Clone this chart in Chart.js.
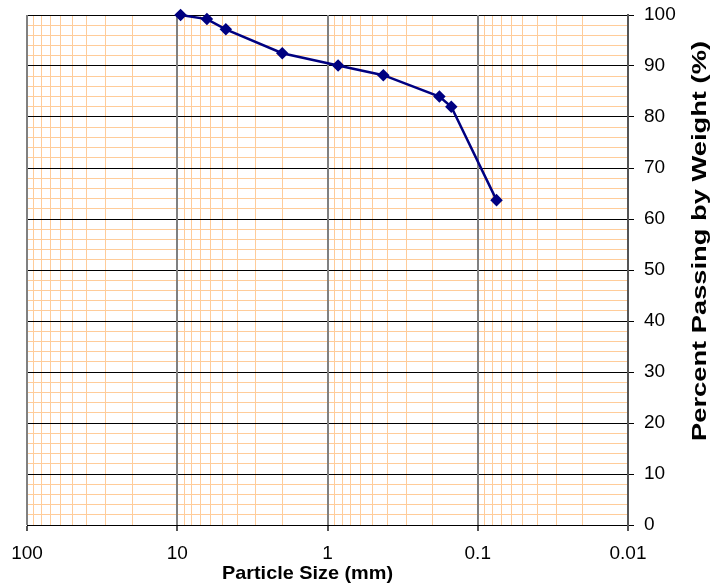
<!DOCTYPE html>
<html>
<head>
<meta charset="utf-8">
<script src="https://cdn.jsdelivr.net/npm/chart.js@4.4.1/dist/chart.umd.min.js"></script>
<style>
  html, body { margin: 0; padding: 0; background: #fff; }
  #chart { display: block; }
</style>
</head>
<body>
<canvas id="chart" width="716" height="588"></canvas>
<script>
// sieve sizes (mm) and percent passing
const sizes = [9.5, 6.35, 4.75, 2.0, 0.85, 0.425, 0.18, 0.15, 0.075];
const passing = [100, 99.2, 97.2, 92.5, 90.1, 88.2, 84.0, 82.0, 63.7];

const decades = [100, 10, 1, 0.1, 0.01];
const decadeLabels = ['100', '10', '1', '0.1', '0.01'];
const yLabels = [0, 10, 20, 30, 40, 50, 60, 70, 80, 90, 100];

const xTitle = 'Particle Size (mm)';
const yTitle = 'Percent Passing by Weight (%)';

const ORANGE = 'rgb(255, 204, 153)';
const NAVY = '#000080';

function isDecade(v) {
    const l = Math.log10(v);
    return Math.abs(l - Math.round(l)) < 1e-6;
}

function decadeLabel(v) {
    const i = decades.findIndex(d => Math.abs(Math.log10(d) - Math.log10(v)) < 1e-6);
    return i >= 0 ? decadeLabels[i] : '';
}

// log-paper ticks 1..9 in each decade
function logTicks() {
    const out = [];
    [0.01, 0.1, 1, 10].forEach(d => {
        for (let m = 1; m <= 9; m++) out.push({ value: parseFloat((m * d).toPrecision(3)) });
    });
    out.push({ value: 100 });
    return out;
}

// titles drawn by hand (y title reads bottom to top, text is stretched like the original)
const titlePlugin = {
    id: 'titles',
    afterDraw(chart) {
        const ctx = chart.ctx;
        ctx.save();
        ctx.fillStyle = '#000';
        ctx.textAlign = 'center';
        ctx.textBaseline = 'middle';

        ctx.font = 'bold 19px "Liberation Sans", Arial, sans-serif';
        let w = ctx.measureText(xTitle).width;
        ctx.save();
        ctx.translate(307.5, 574);
        ctx.scale(171 / w, 1);
        ctx.fillText(xTitle, 0, 0);
        ctx.restore();

        ctx.font = 'bold 21px "Liberation Sans", Arial, sans-serif';
        w = ctx.measureText(yTitle).width;
        ctx.save();
        ctx.translate(700, 241);
        ctx.rotate(-Math.PI / 2);
        ctx.scale(400 / w, 1);
        ctx.fillText(yTitle, 0, 0);
        ctx.restore();
        ctx.restore();
    }
};

const tickFont = { family: '"Liberation Sans", Arial, sans-serif', size: 19 };

new Chart(document.getElementById('chart'), {
    type: 'scatter',
    data: {
        datasets: [{
            data: sizes.map((s, i) => ({ x: s, y: passing[i] })),
            showLine: true,
            borderColor: NAVY,
            backgroundColor: NAVY,
            borderWidth: 2.5,
            pointStyle: 'rectRot',
            pointRadius: 4.5,
            pointHoverRadius: 4.5,
            clip: false
        }]
    },
    options: {
        responsive: false,
        devicePixelRatio: 1,
        animation: false,
        layout: { padding: { left: 27, right: 28, top: 15, bottom: 0 } },
        plugins: {
            legend: { display: false },
            tooltip: { enabled: false }
        },
        scales: {
            x: {
                type: 'logarithmic',
                reverse: true,
                min: 0.01,
                max: 100,
                afterBuildTicks: scale => { scale.ticks = logTicks(); },
                afterFit: scale => { scale.height = 63; },
                ticks: {
                    autoSkip: false,
                    maxRotation: 0,
                    minRotation: 0,
                    padding: 11,
                    color: '#000',
                    font: tickFont,
                    callback: v => isDecade(v) ? decadeLabel(v) : ''
                },
                grid: {
                    z: -3,
                    color: ctx => (ctx.tick && isDecade(ctx.tick.value)) ? '#808080' : ORANGE,
                    lineWidth: ctx => (ctx.tick && isDecade(ctx.tick.value)) ? 2 : 1,
                    tickColor: ctx => (ctx.tick && isDecade(ctx.tick.value)) ? '#555' : 'rgba(0,0,0,0)',
                    tickLength: 6
                },
                border: { display: true, color: '#000', width: 1 },
                title: { display: false }
            },
            // decade lines only, drawn over the horizontal grid
            xMajor: {
                type: 'logarithmic',
                position: 'bottom',
                reverse: true,
                min: 0.01,
                max: 100,
                afterBuildTicks: scale => { scale.ticks = decades.map(v => ({ value: v })); },
                afterFit: scale => { scale.height = 0; },
                ticks: { display: false },
                grid: {
                    z: -1,
                    color: '#808080',
                    lineWidth: 2,
                    drawTicks: false
                },
                border: { display: false },
                title: { display: false }
            },
            y: {
                position: 'right',
                min: 0,
                max: 100,
                // keep the plot top at the layout padding, not label height + tick padding
                afterFit: scale => { scale.width = 60; scale.paddingTop = 0; scale.paddingBottom = 0; },
                ticks: {
                    stepSize: 2,
                    autoSkip: false,
                    padding: 10,
                    color: '#000',
                    font: tickFont,
                    callback: v => yLabels.includes(v) ? String(v) : ''
                },
                grid: {
                    z: -2,
                    color: ctx => (ctx.tick && ctx.tick.value % 10 === 0) ? '#000' : ORANGE,
                    lineWidth: 1,
                    tickColor: ctx => (ctx.tick && ctx.tick.value % 10 === 0) ? '#000' : 'rgba(0,0,0,0)',
                    tickLength: 6
                },
                border: { display: true, color: '#555', width: 2 },
                title: { display: false }
            }
        }
    },
    plugins: [titlePlugin]
});
</script>
</body>
</html>
